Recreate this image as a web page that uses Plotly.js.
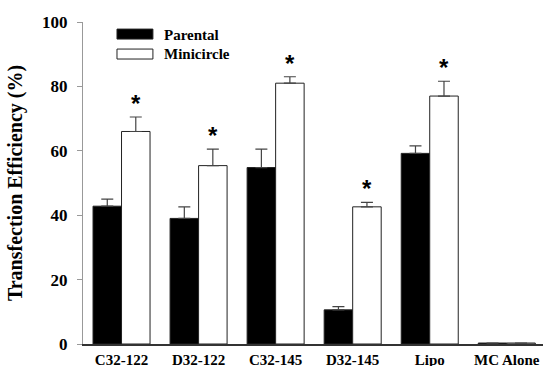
<!DOCTYPE html>
<html>
<head>
<meta charset="utf-8">
<script src="https://cdn.plot.ly/plotly-3.0.1.min.js"></script>
<style>html,body{margin:0;padding:0;background:#fff;}#chart{width:543px;height:366px;}</style>
</head>
<body>
<div id="chart"></div>
<script>
const categories = ["C32-122", "D32-122", "C32-145", "D32-145", "Lipo", "MC Alone"];
const parental = [42.8, 39.0, 54.8, 10.6, 59.2, 0.3];
const parentalErr = [2.2, 3.6, 5.7, 1.0, 2.3, 0];
const minicircle = [66.0, 55.4, 81.0, 42.6, 77.0, 0.3];
const minicircleErr = [4.5, 5.1, 2.0, 1.4, 4.6, 0];
const significant = [true, true, true, true, true, false];
const yTicks = [0, 20, 40, 60, 80, 100];

const font = "Liberation Serif, Times New Roman, serif";
const zeros = categories.map(() => 0);

const traces = [
  {
    type: "bar", name: "Parental", x: categories, y: parental,
    marker: {color: "#000", line: {color: "#222", width: 1}},
    error_y: {type: "data", symmetric: false, array: parentalErr, arrayminus: zeros,
              color: "#444", thickness: 1.2, width: 6}
  },
  {
    type: "bar", name: "Minicircle", x: categories, y: minicircle,
    marker: {color: "#fff", line: {color: "#222", width: 1}},
    error_y: {type: "data", symmetric: false, array: minicircleErr, arrayminus: zeros,
              color: "#444", thickness: 1.2, width: 6}
  }
];

const annotations = [];
categories.forEach((c, i) => {
  if (significant[i]) {
    annotations.push({
      x: c, y: minicircle[i] + minicircleErr[i], xref: "x", yref: "y",
      xshift: 14, yshift: -2, yanchor: "bottom", showarrow: false,
      text: "<b>*</b>", font: {family: "Liberation Sans, Arial, sans-serif", size: 24, color: "#000"}
    });
  }
});
// legend drawn manually
const legendItems = [
  {name: "Parental", fill: "#000", y0: 0.947, y1: 0.978, ty: 0.9598},
  {name: "Minicircle", fill: "#fff", y0: 0.885, y1: 0.916, ty: 0.9009}
];
const shapes = [];
legendItems.forEach(it => {
  shapes.push({type: "rect", xref: "paper", yref: "paper", x0: 0.0739, x1: 0.152,
               y0: it.y0, y1: it.y1, fillcolor: it.fill, line: {color: "#222", width: 1}});
  annotations.push({x: 0.1717, y: it.ty, xref: "paper", yref: "paper", xanchor: "left",
                    yanchor: "middle", showarrow: false, text: "<b>" + it.name + "</b>",
                    font: {family: font, size: 15, color: "#000"}});
});

const layout = {
  width: 543, height: 366,
  margin: {l: 83, r: 0, t: 22, b: 22},
  paper_bgcolor: "#fff", plot_bgcolor: "#fff",
  showlegend: false,
  barmode: "group", bargap: 0.26, bargroupgap: 0,
  font: {family: font, color: "#000"},
  xaxis: {
    range: [-0.5, 5.47], showgrid: false, zeroline: false,
    showline: true, linecolor: "#333", linewidth: 1.5,
    ticks: "", ticklen: 0, ticklabelstandoff: 1,
    tickvals: categories, ticktext: categories.map(c => "<b>" + c + "</b>"),
    tickfont: {family: font, size: 15, color: "#000"}
  },
  yaxis: {
    range: [0, 100], tickvals: yTicks, ticktext: yTicks.map(v => "<b>" + v + "</b>"),
    showgrid: false, zeroline: false,
    showline: true, linecolor: "#999", linewidth: 1,
    ticks: "outside", ticklen: 5, tickcolor: "#999", ticklabelstandoff: 6,
    tickfont: {family: font, size: 17, color: "#000"},
    title: {text: "<b>Transfection Efficiency (%)</b>", font: {family: font, size: 20, color: "#000"}, standoff: 14}
  },
  shapes: shapes,
  annotations: annotations
};

Plotly.newPlot("chart", traces, layout, {displayModeBar: false, staticPlot: true});
</script>
</body>
</html>
